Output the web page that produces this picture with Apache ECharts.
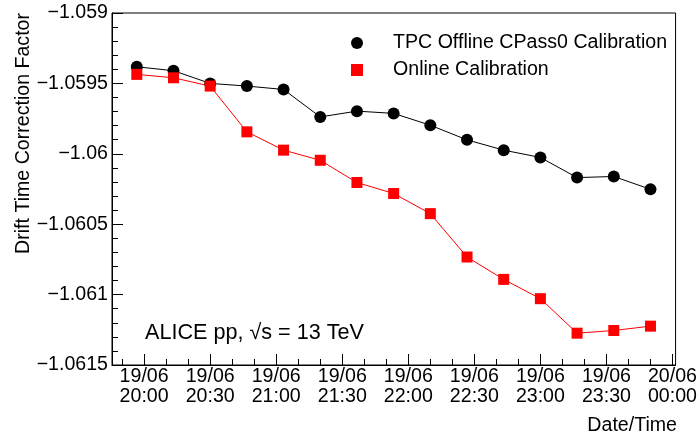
<!DOCTYPE html>
<html>
<head>
<meta charset="utf-8">
<script src="https://cdn.jsdelivr.net/npm/echarts@6/dist/echarts.min.js"></script>
<style>
  html, body { margin: 0; padding: 0; background: #fff; }
  #chart { width: 700px; height: 439px; }
</style>
</head>
<body>
<div id="chart"></div>
<script>
// measurement times on 19/06 (hh:mm:ss)
var times = ['19:56:40', '20:13:20', '20:30:00', '20:46:40', '21:03:20', '21:20:00', '21:36:40', '21:53:20',
             '22:10:00', '22:26:40', '22:43:20', '23:00:00', '23:16:40', '23:33:20', '23:50:00'];
var offlineCPass0 = [-1.059382, -1.059410, -1.059500, -1.059519, -1.059543, -1.059738, -1.059697, -1.059713,
                     -1.059797, -1.059901, -1.059974, -1.060026, -1.060169, -1.060161, -1.060252];
var onlineCalib = [-1.059436, -1.059460, -1.059519, -1.059844, -1.059974, -1.060046, -1.060204, -1.060282,
                   -1.060425, -1.060733, -1.060892, -1.061029, -1.061274, -1.061255, -1.061224];
// x tick positions (minutes since 19/06 00:00) and their labels
var xMajorTicks = [1200, 1230, 1260, 1290, 1320, 1350, 1380, 1410, 1440];
var xTickLabels = ['19/06\n20:00', '19/06\n20:30', '19/06\n21:00', '19/06\n21:30', '19/06\n22:00',
                   '19/06\n22:30', '19/06\n23:00', '19/06\n23:30', '20/06\n00:00'];
var xMinorTicks = [1190, 1200, 1210, 1220, 1230, 1240, 1250, 1260, 1270, 1280, 1290, 1300, 1310, 1320,
                   1330, 1340, 1350, 1360, 1370, 1380, 1390, 1400, 1410, 1420, 1430, 1440];

var FONT = "'Liberation Sans', Arial, Helvetica, sans-serif";
var FS = 19.6;

function toMinutes(t) {
  var p = t.split(':');
  return (+p[0]) * 60 + (+p[1]) + (+p[2]) / 60;
}

function pairs(vals) {
  return vals.map(function (v, i) { return [toMinutes(times[i]), v]; });
}

var chart = echarts.init(document.getElementById('chart'));

chart.setOption({
  animation: false,
  backgroundColor: '#fff',
  textStyle: { fontFamily: FONT },
  grid: {
    left: 112, right: 23, top: 13, bottom: 74,
    show: true, borderColor: '#000', borderWidth: 1
  },
  legend: {
    orient: 'vertical',
    left: 346, top: 28,
    itemWidth: 12, itemHeight: 12,
    itemGap: 7,
    textStyle: { fontFamily: FONT, fontSize: FS, color: '#000', padding: [0, 0, 0, 25] },
    data: [
      { name: 'TPC Offline CPass0 Calibration', icon: 'circle' },
      { name: 'Online Calibration', icon: 'rect' }
    ]
  },
  xAxis: [
    {
      type: 'value',
      min: 1185.4, max: 1441.4,
      axisLine: { show: true, lineStyle: { color: '#000', width: 1 } },
      splitLine: { show: false },
      axisTick: { show: true, inside: true, length: 11, customValues: xMajorTicks, lineStyle: { color: '#000' } },
      axisLabel: {
        customValues: xMajorTicks,
        margin: 2,
        fontSize: FS, lineHeight: 20, color: '#000', fontFamily: FONT,
        formatter: function (v) {
          var i = xMajorTicks.indexOf(Math.round(v));
          return i >= 0 ? xTickLabels[i] : '';
        }
      }
    },
    {
      type: 'value',
      min: 1185.4, max: 1441.4,
      position: 'bottom',
      axisLine: { show: false },
      splitLine: { show: false },
      axisTick: { show: true, inside: true, length: 6, customValues: xMinorTicks, lineStyle: { color: '#000' } },
      axisLabel: { show: false }
    }
  ],
  yAxis: {
    type: 'value',
    min: -1.0615, max: -1.059, interval: 0.0005,
    axisLine: { show: true, lineStyle: { color: '#000', width: 1 } },
    splitLine: { show: false },
    axisTick: { show: true, inside: true, length: 11, lineStyle: { color: '#000' } },
    minorTick: { show: true, splitNumber: 5, length: 6, lineStyle: { color: '#000' } },
    axisLabel: {
      margin: 4,
      fontSize: FS, color: '#000', fontFamily: FONT,
      formatter: function (v) {
        return String(parseFloat(v.toFixed(4))).replace('-', '\u2212');
      }
    }
  },
  graphic: [
    {
      type: 'text', x: 24, y: 13, rotation: Math.PI / 2,
      style: { text: 'Drift Time Correction Factor', font: FS + 'px ' + FONT, fill: '#000', textAlign: 'right', textVerticalAlign: 'middle' }
    },
    {
      type: 'text', x: 677, y: 426,
      style: { text: 'Date/Time', font: FS + 'px ' + FONT, fill: '#000', textAlign: 'right', textVerticalAlign: 'middle' }
    },
    {
      type: 'text', x: 145, y: 333,
      style: { text: 'ALICE pp, \u221As = 13 TeV', font: '21.6px ' + FONT, fill: '#000', textAlign: 'left', textVerticalAlign: 'middle' }
    }
  ],
  series: [
    {
      name: 'TPC Offline CPass0 Calibration',
      type: 'line',
      data: pairs(offlineCPass0),
      symbol: 'circle', symbolSize: 12,
      itemStyle: { color: '#000' },
      lineStyle: { color: '#000', width: 1 }
    },
    {
      name: 'Online Calibration',
      type: 'line',
      data: pairs(onlineCalib),
      symbol: 'rect', symbolSize: 11,
      itemStyle: { color: '#ff0000' },
      lineStyle: { color: '#ff0000', width: 1 }
    }
  ]
});
</script>
</body>
</html>
